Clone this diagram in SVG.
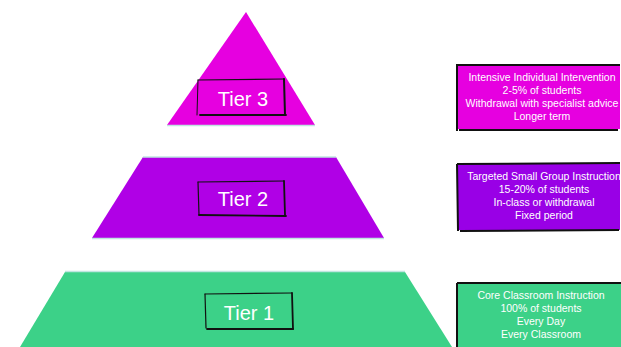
<svg xmlns="http://www.w3.org/2000/svg" width="621" height="347" viewBox="0 0 621 347">
  <style>
    .tier-label { font-family: "Liberation Sans", "DejaVu Sans", sans-serif; font-size: 20px; fill: #ffffff; text-anchor: middle; }
    .info { font-family: "Liberation Sans", "DejaVu Sans", sans-serif; font-size: 10.5px; fill: #ffffff; text-anchor: middle; }
    .sketch { fill: none; stroke: #111111; stroke-linecap: round; stroke-linejoin: round; }
    .rim { fill: none; stroke: #bfe6e0; stroke-width: 1.5; }
    .panel-edge { fill: none; stroke: #111111; stroke-width: 2; }
  </style>
  <rect width="621" height="347" fill="#ffffff"/>

  <!-- Tier 3: apex triangle -->
  <g id="tier3">
    <polygon points="246,12 315,125 167,125" fill="#e600e0"/>
    <line class="rim" x1="167" y1="125.5" x2="315" y2="125.5"/>
    <path class="sketch" stroke-width="1.2" d="M198,80 L284,79"/>
    <path class="sketch" stroke-width="1" d="M198,80 L197,115"/>
    <path class="sketch" stroke-width="2" d="M284,79 L285,115"/>
    <path class="sketch" stroke-width="1.8" d="M200,115 L286,115"/>
    <text class="tier-label" x="243" y="106">Tier 3</text>
  </g>

  <!-- Tier 2: middle band -->
  <g id="tier2">
    <polygon points="143,157 336,157 384,238 92,238" fill="#b000e6"/>
    <line class="rim" x1="143" y1="157" x2="336" y2="157"/>
    <line class="rim" x1="92" y1="238.5" x2="384" y2="238.5"/>
    <path class="sketch" stroke-width="1.2" d="M198,182 L284,181"/>
    <path class="sketch" stroke-width="1.2" d="M198,182 L199,215"/>
    <path class="sketch" stroke-width="1.8" d="M284,181 L285,215"/>
    <path class="sketch" stroke-width="1.8" d="M199,215 L286,216"/>
    <text class="tier-label" x="243" y="206">Tier 2</text>
  </g>

  <!-- Tier 1: base band -->
  <g id="tier1">
    <polygon points="65,272 405,272 452,347 20,347" fill="#3cd188"/>
    <line class="rim" x1="65" y1="271.5" x2="405" y2="271.5" stroke="#d8efe4"/>
    <path class="sketch" stroke-width="1.2" d="M205,294 L292,293"/>
    <path class="sketch" stroke-width="1.2" d="M205,294 L206,328"/>
    <path class="sketch" stroke-width="1.8" d="M292,293 L293,329"/>
    <path class="sketch" stroke-width="1.8" d="M207,329 L293,329"/>
    <text class="tier-label" x="249" y="320">Tier 1</text>
  </g>

  <!-- Side panels describing each tier -->
  <g id="panel3">
    <rect x="458" y="65" width="162" height="64" fill="#e600e0"/>
    <path class="panel-edge" d="M457,65 L620,65 M457,64 L457,131 M459,130 L618,130"/>
    <text class="info" x="542" y="81">Intensive Individual Intervention</text>
    <text class="info" x="542" y="94">2-5% of students</text>
    <text class="info" x="542" y="107">Withdrawal with specialist advice</text>
    <text class="info" x="542" y="120">Longer term</text>
  </g>

  <g id="panel2">
    <rect x="458" y="164" width="162" height="66" fill="#9900e6"/>
    <path class="panel-edge" d="M457,164 L620,163 M457,164 L458,231 M460,231 L619,230"/>
    <text class="info" x="544" y="180">Targeted Small Group Instruction</text>
    <text class="info" x="544" y="193">15-20% of students</text>
    <text class="info" x="544" y="206">In-class or withdrawal</text>
    <text class="info" x="544" y="219">Fixed period</text>
  </g>

  <g id="panel1">
    <rect x="457" y="284" width="164" height="63" fill="#3cd188"/>
    <path class="panel-edge" d="M457,283 L621,283 M457,283 L457,347"/>
    <text class="info" x="541" y="299">Core Classroom Instruction</text>
    <text class="info" x="541" y="312">100% of students</text>
    <text class="info" x="541" y="325">Every Day</text>
    <text class="info" x="541" y="338">Every Classroom</text>
  </g>
</svg>
